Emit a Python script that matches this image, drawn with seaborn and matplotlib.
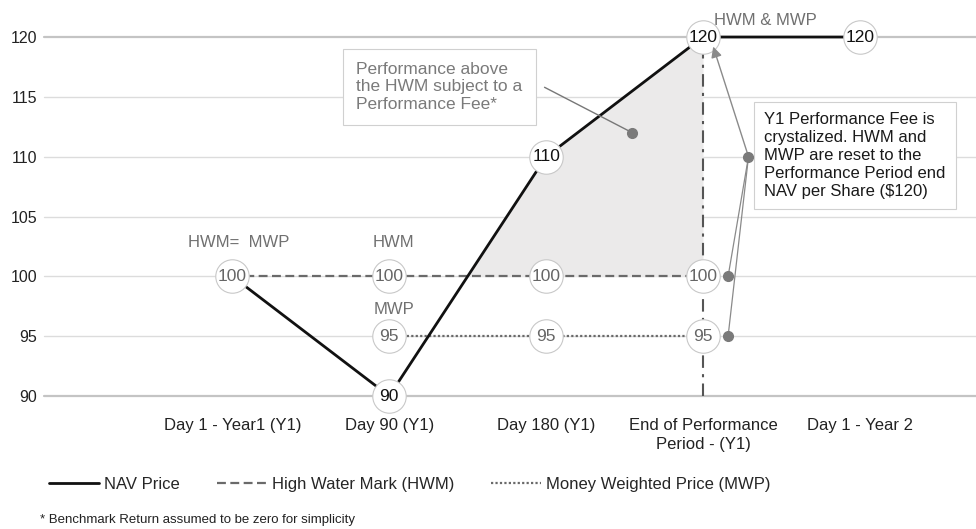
import numpy as np
import pandas as pd
import matplotlib.pyplot as plt
from matplotlib.lines import Line2D
import seaborn as sns

sns.set_theme(style="white")
plt.rcParams['font.family'] = ['Liberation Sans', 'DejaVu Sans']

# data
categories = ["Day 1 - Year1 (Y1)", "Day 90 (Y1)", "Day 180 (Y1)",
              "End of Performance\nPeriod - (Y1)", "Day 1 - Year 2"]
nav = [100, 90, 110, 120, 120]
hwm = [100, 100, 100, 100, np.nan]
mwp = [np.nan, 95, 95, 95, np.nan]
yticks = [90, 95, 100, 105, 110, 115, 120]

pos = np.arange(len(categories))
df = pd.DataFrame({"pos": pos, "nav": nav, "hwm": hwm, "mwp": mwp})

fig = plt.figure(figsize=(9.76, 5.29), dpi=100)
ax = fig.add_axes([0.0451, 0.2514, 0.9549, 0.6786])

# grid lines
for v in yticks:
    edge = v in (yticks[0], yticks[-1])
    ax.axhline(v, color='#c4c4c4' if edge else '#dcdcdc', lw=1.6 if edge else 1.0,
               zorder=0, clip_on=False)

# shaded area where NAV is above the HWM
i0 = 1
t = (hwm[i0] - nav[i0]) / (nav[i0 + 1] - nav[i0])
xs = [pos[i0] + t, pos[2], pos[3]]
ax.fill_between(xs, [hwm[2]] * 3, [hwm[2], nav[2], nav[3]], color='#ebeaea', lw=0, zorder=1)

# vertical end of period line
ax.plot([pos[3], pos[3]], [yticks[0], nav[3]], color='#555555', lw=1.5,
        ls=(0, (6, 3, 1.5, 3)), zorder=2)

sns.lineplot(data=df, x="pos", y="hwm", ax=ax, color='#6a6a6a', lw=1.6,
             ls=(0, (4, 2)), zorder=3)
sns.lineplot(data=df, x="pos", y="mwp", ax=ax, color='#6a6a6a', lw=1.6,
             ls=(0, (1, 1)), zorder=3)
sns.lineplot(data=df, x="pos", y="nav", ax=ax, color='#111111', lw=2, zorder=4,
             clip_on=False)

# value circles
circ = dict(s=580, color='white', edgecolor='#c8c8c8', linewidth=0.8, zorder=5, clip_on=False)
lbl = dict(ha='center', va='center', fontsize=12.5, zorder=6)
for i in range(4):
    sns.scatterplot(x=[pos[i]], y=[hwm[i]], ax=ax, **circ)
    ax.text(pos[i], hwm[i], f"{hwm[i]:.0f}", color='#666666', **lbl)
for i in range(1, 4):
    sns.scatterplot(x=[pos[i]], y=[mwp[i]], ax=ax, **circ)
    ax.text(pos[i], mwp[i], f"{mwp[i]:.0f}", color='#666666', **lbl)
for i in range(1, 5):
    sns.scatterplot(x=[pos[i]], y=[nav[i]], ax=ax, **circ)
    ax.text(pos[i], nav[i], f"{nav[i]:.0f}", color='#111111', **lbl)

# series labels
grey = '#707070'
ax.text(0.04, 102.8, "HWM=  MWP", color=grey, fontsize=12, ha='center', va='center')
ax.text(1.03, 102.8, "HWM", color=grey, fontsize=12, ha='center', va='center')
ax.text(1.03, 97.2, "MWP", color=grey, fontsize=12, ha='center', va='center')
ax.text(3.4, 121.4, "HWM & MWP", color=grey, fontsize=12, ha='center', va='center',
        clip_on=False)

# annotation 1
ax.text(0.79, 115.85, "Performance above\nthe HWM subject to a\nPerformance Fee*",
        color='#7a7a7a', fontsize=12.5, ha='left', va='center', linespacing=1.2, zorder=7,
        bbox=dict(boxstyle='square,pad=0.75', fc='white', ec='#d0d0d0', lw=0.8))
ax.plot([1.99, 2.55], [115.8, 112.0], color='#777777', lw=1, zorder=7)
ax.plot([2.55], [112.0], 'o', color='#7a7a7a', ms=7, zorder=8)

# annotation 2
ax.text(3.39, 110.1, "Y1 Performance Fee is\ncrystalized. HWM and\nMWP are reset to the\n"
        "Performance Period end\nNAV per Share ($120)",
        color='#1a1a1a', fontsize=12, ha='left', va='center', linespacing=1.25, zorder=7,
        bbox=dict(boxstyle='square,pad=0.6', fc='white', ec='#d0d0d0', lw=0.8))
ax.annotate("", xy=(3.065, 119.2), xytext=(3.29, 110),
            arrowprops=dict(arrowstyle='-|>', color='#8a8a8a', lw=1, mutation_scale=16,
                            shrinkA=0, shrinkB=0), zorder=8)
for yy in (hwm[3], mwp[3]):
    ax.plot([3.16, 3.29], [yy, 110], color='#8a8a8a', lw=0.9, zorder=7)
    ax.plot([3.16], [yy], 'o', color='#7a7a7a', ms=7, zorder=8)
ax.plot([3.29], [110], 'o', color='#7a7a7a', ms=7, zorder=8)

ax.set_xlim(-1.2, 4.74)
ax.set_ylim(yticks[0], yticks[-1])
ax.set_yticks(yticks)
ax.set_yticklabels([str(v) for v in yticks], fontsize=11.5, color='#222222')
ax.set_xticks(pos)
ax.set_xticklabels(categories, fontsize=12, color='#222222', linespacing=1.3)
ax.tick_params(axis='y', length=0, pad=5)
ax.tick_params(axis='x', length=0, pad=16)
ax.set_xlabel("")
ax.set_ylabel("")
for s in ax.spines.values():
    s.set_visible(False)

handles = [Line2D([], [], color='#111111', lw=2),
           Line2D([], [], color='#6a6a6a', lw=1.6, ls=(0, (4, 2))),
           Line2D([], [], color='#6a6a6a', lw=1.6, ls=(0, (1, 1)))]
fig.legend(handles, ["NAV Price", "High Water Mark (HWM)", "Money Weighted Price (MWP)"],
           loc='center left', bbox_to_anchor=(0.035, 0.085), ncol=3, frameon=False,
           fontsize=12, handlelength=3.0, handletextpad=0.3, columnspacing=2.2)

fig.text(0.041, 0.017, "* Benchmark Return assumed to be zero for simplicity",
         fontsize=9.5, color='#222222', va='center')

fig.savefig("out.png", dpi=100)
